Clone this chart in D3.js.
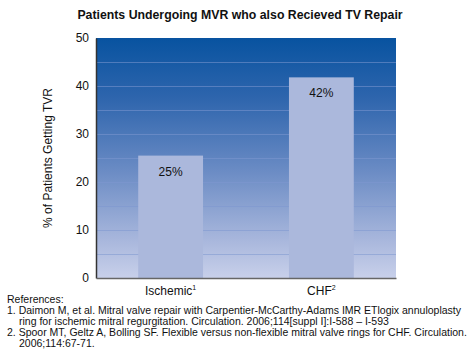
<!DOCTYPE html>
<html>
<head>
<meta charset="utf-8">
<script src="https://cdn.jsdelivr.net/npm/d3@7"></script>
<style>
  body { margin: 0; background: #fff; }
  svg { font-family: Arial, "Liberation Sans", sans-serif; }
</style>
</head>
<body>
<svg id="chart" width="474" height="354"></svg>
<script>
(function () {
    const categories = ["Ischemic", "CHF"];
    const supers     = ["1", "2"];
    const values     = [25.5, 41.8];
    const labels     = ["25%", "42%"];
    const yTicks     = [0, 10, 20, 30, 40, 50];
    const gridVals   = [5, 10, 15, 20, 25, 30, 35, 40, 45];
    const refs = [
        ["References:"],
        ["1. Daimon M, et al. Mitral valve repair with Carpentier-McCarthy-Adams IMR ETlogix annuloplasty",
         "ring for ischemic mitral regurgitation. Circulation. 2006;114[suppl I]:I-588 \u2013 I-593"],
        ["2. Spoor MT, Geltz A, Bolling SF. Flexible versus non-flexible mitral valve rings for CHF. Circulation.",
         "2006;114:67-71."]
    ];

    const svg = d3.select("#chart");
    const L = 96, R = 396, T = 38, B = 278;

    const x = d3.scaleBand().domain(categories).range([L, R]).paddingInner(0.57).paddingOuter(0.28);
    const y = d3.scaleLinear().domain([0, 50]).range([B, T]);

    // title
    svg.append("text")
        .attr("x", 240).attr("y", 19)
        .attr("text-anchor", "middle")
        .attr("font-size", "12.3px").attr("font-weight", "bold").attr("fill", "#111")
        .text("Patients Undergoing MVR who also Recieved TV Repair");

    // background gradient
    const defs = svg.append("defs");
    const grad = defs.append("linearGradient").attr("id", "bg-grad")
        .attr("x1", 0).attr("y1", 0).attr("x2", 0).attr("y2", 1);
    [["0%", "#0853a0"], ["25%", "#2e65ad"], ["55%", "#6a8bc4"], ["85%", "#aab8dd"], ["100%", "#c8d0ea"]]
        .forEach(([o, c]) => grad.append("stop").attr("offset", o).attr("stop-color", c));

    svg.append("rect")
        .attr("x", L).attr("y", T).attr("width", R - L).attr("height", B - T)
        .attr("fill", "url(#bg-grad)");

    svg.append("g").selectAll("line")
        .data(gridVals)
        .join("line")
        .attr("x1", L).attr("x2", R)
        .attr("y1", d => y(d) + 0.5).attr("y2", d => y(d) + 0.5)
        .attr("stroke", "#7d98cf").attr("stroke-opacity", 0.55).attr("stroke-width", 1);

    // bars
    svg.append("g").selectAll("rect")
        .data(values)
        .join("rect")
        .attr("x", (d, i) => x(categories[i]))
        .attr("width", x.bandwidth())
        .attr("y", d => y(d))
        .attr("height", d => B - y(d))
        .attr("fill", "#abb8dc");

    svg.append("g").selectAll("text")
        .data(values)
        .join("text")
        .attr("x", (d, i) => x(categories[i]) + x.bandwidth() / 2)
        .attr("y", d => y(d) + 20)
        .attr("text-anchor", "middle")
        .attr("font-size", "12px").attr("fill", "#111")
        .text((d, i) => labels[i]);

    // axes
    const yAxis = svg.append("g")
        .attr("transform", `translate(${L},0)`)
        .call(d3.axisLeft(y).tickValues(yTicks).tickSize(0).tickPadding(7));
    yAxis.select(".domain").attr("stroke", "#333").attr("stroke-width", 1.5);
    yAxis.selectAll("text").attr("font-size", "12px").attr("fill", "#111")
        .attr("font-family", "Arial, 'Liberation Sans', sans-serif");

    const xAxis = svg.append("g")
        .attr("transform", `translate(0,${B})`)
        .call(d3.axisBottom(x).tickSize(0).tickPadding(10).tickFormat(() => ""));
    xAxis.select(".domain").attr("stroke", "#666").attr("stroke-width", 1.5);
    xAxis.selectAll(".tick").each(function (d, i) {
        const t = d3.select(this).append("text")
            .attr("y", 17).attr("text-anchor", "middle")
            .attr("font-size", "12px").attr("fill", "#111");
        t.append("tspan").text(d);
        t.append("tspan").attr("font-size", "7px").attr("dy", "-5").text(supers[i]);
    });

    // y label
    svg.append("text")
        .attr("transform", "translate(52,158) rotate(-90)")
        .attr("text-anchor", "middle")
        .attr("font-size", "12px").attr("fill", "#111")
        .text("% of Patients Getting TVR");

    // references
    const refG = svg.append("g").attr("font-size", "10.5px").attr("fill", "#111");
    let yy = 303;
    refs.forEach((r, i) => {
        r.forEach((line, j) => {
            refG.append("text")
                .attr("x", (i > 0 && j > 0) ? 19 : 7)
                .attr("y", yy)
                .text(line);
            yy += 11;
        });
    });
})();
</script>
</body>
</html>
